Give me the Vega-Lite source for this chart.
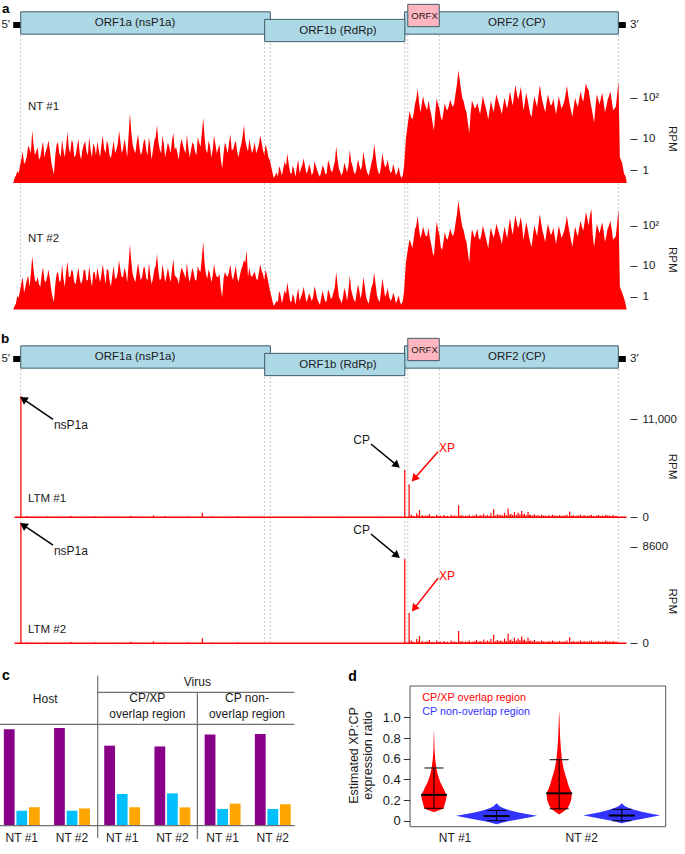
{
"$schema": "https://vega.github.io/schema/vega-lite/v6.json",
"width": 685, "height": 854, "padding": 0, "autosize": {"type": "none"}, "background": "white",
"config": {"view": {"stroke": null}, "font": "Liberation Sans",
  "axis": {"grid": false, "domain": false, "labelFont": "Liberation Sans", "titleFont": "Liberation Sans", "labelColor": "#1a1a1a", "titleColor": "#1a1a1a", "tickColor": "#333333", "labelFontSize": 11.5, "titleFontSize": 11.5, "titleFontWeight": "normal", "tickSize": 7, "labelPadding": 5}},
"datasets": {
 "genes": [
  {"name": "ORF1a (nsP1a)", "start": 83, "end": 2842, "frame": 0, "lx": 1346, "kind": "ORF"},
  {"name": "ORF2 (CP)", "start": 4325, "end": 6688, "frame": 0, "lx": 5565, "kind": "ORF"},
  {"name": "ORF1b (RdRp)", "start": 2779, "end": 4329, "frame": -1, "lx": 3590, "kind": "ORF"},
  {"name": "ORFX", "start": 4361, "end": 4709, "frame": 1, "lx": 4546, "kind": "ORFX"}],
 "ends": [{"region": "5′ UTR", "start": 0, "end": 83}, {"region": "3′ UTR", "start": 6688, "end": 6771}],
 "vlines": [{"p": 83}, {"p": 2779}, {"p": 2842}, {"p": 4327}, {"p": 4361}, {"p": 4709}, {"p": 6688}],
 "nt1": [
  {"p":0,"v":0},{"p":30,"v":0.5},{"p":60,"v":0.7},{"p":90,"v":2.6},{"p":120,"v":1.8},{"p":150,"v":3.2},{"p":180,"v":5.5},{"p":210,"v":16},{"p":240,"v":3.5},{"p":270,"v":6},{"p":300,"v":3},{"p":330,"v":8.5},{"p":360,"v":4.5},{"p":390,"v":9},{"p":420,"v":2.2},{"p":450,"v":0.6},{"p":480,"v":7},{"p":510,"v":4},{"p":540,"v":9.5},{"p":570,"v":3},{"p":600,"v":15},{"p":630,"v":4},{"p":660,"v":8},{"p":690,"v":3.5},{"p":720,"v":10},{"p":750,"v":2.5},{"p":780,"v":7},{"p":810,"v":4.5},{"p":840,"v":11},{"p":870,"v":3},{"p":900,"v":6},{"p":930,"v":8.5},{"p":960,"v":3},{"p":990,"v":12},{"p":1020,"v":4},{"p":1050,"v":7},{"p":1080,"v":2.8},{"p":1110,"v":9},{"p":1140,"v":5},{"p":1170,"v":16},{"p":1200,"v":4},{"p":1230,"v":10},{"p":1260,"v":3},{"p":1290,"v":42},{"p":1320,"v":7},{"p":1350,"v":4},{"p":1380,"v":13},{"p":1410,"v":3.5},{"p":1440,"v":8},{"p":1470,"v":5},{"p":1500,"v":11},{"p":1530,"v":2.5},{"p":1560,"v":9},{"p":1590,"v":22},{"p":1620,"v":5},{"p":1650,"v":12},{"p":1680,"v":3},{"p":1710,"v":8},{"p":1740,"v":4},{"p":1770,"v":14},{"p":1800,"v":6},{"p":1830,"v":2.5},{"p":1860,"v":10},{"p":1890,"v":5},{"p":1920,"v":13},{"p":1950,"v":3},{"p":1980,"v":8},{"p":2010,"v":4.5},{"p":2040,"v":11},{"p":2070,"v":6},{"p":2100,"v":33},{"p":2130,"v":5},{"p":2160,"v":9},{"p":2190,"v":3},{"p":2220,"v":12},{"p":2250,"v":4},{"p":2280,"v":7},{"p":2310,"v":1.2},{"p":2340,"v":8},{"p":2370,"v":4},{"p":2400,"v":13},{"p":2430,"v":5},{"p":2460,"v":9},{"p":2490,"v":3},{"p":2520,"v":7},{"p":2550,"v":22},{"p":2580,"v":6},{"p":2610,"v":10},{"p":2640,"v":4},{"p":2670,"v":8},{"p":2700,"v":5},{"p":2730,"v":12},{"p":2760,"v":5},{"p":2790,"v":7},{"p":2820,"v":3},{"p":2850,"v":1.5},
  {"p":2880,"v":0.3},{"p":2910,"v":0.8},{"p":2940,"v":1.5},{"p":2970,"v":0.5},{"p":3000,"v":2.2},{"p":3030,"v":4},{"p":3060,"v":0.8},{"p":3090,"v":1.6},{"p":3120,"v":0.4},{"p":3150,"v":2.5},{"p":3180,"v":1.2},{"p":3210,"v":2.8},{"p":3240,"v":0.7},{"p":3270,"v":1.8},{"p":3300,"v":0.5},{"p":3330,"v":2.2},{"p":3360,"v":1},{"p":3390,"v":0.4},{"p":3420,"v":1.6},{"p":3450,"v":0.6},{"p":3480,"v":2.4},{"p":3510,"v":1},{"p":3540,"v":1.4},{"p":3570,"v":6.2},{"p":3600,"v":1.2},{"p":3630,"v":0.5},{"p":3660,"v":2},{"p":3690,"v":0.8},{"p":3720,"v":5},{"p":3750,"v":1.5},{"p":3780,"v":0.6},{"p":3810,"v":2.6},{"p":3840,"v":1},{"p":3870,"v":4.5},{"p":3900,"v":1.2},{"p":3930,"v":0.5},{"p":3960,"v":2},{"p":3990,"v":7.2},{"p":4020,"v":1.5},{"p":4050,"v":0.6},{"p":4080,"v":4},{"p":4110,"v":1.3},{"p":4140,"v":2.5},{"p":4170,"v":0.7},{"p":4200,"v":1.8},{"p":4230,"v":0.5},{"p":4260,"v":1.4},{"p":4290,"v":0.3},{"p":4320,"v":1.5},
  {"p":4340,"v":10},{"p":4360,"v":22},{"p":4380,"v":48},{"p":4410,"v":30},{"p":4440,"v":70},{"p":4470,"v":160},{"p":4500,"v":45},{"p":4530,"v":110},{"p":4560,"v":60},{"p":4590,"v":85},{"p":4620,"v":40},{"p":4650,"v":16},{"p":4680,"v":95},{"p":4710,"v":55},{"p":4740,"v":28},{"p":4770,"v":75},{"p":4800,"v":50},{"p":4830,"v":90},{"p":4860,"v":60},{"p":4890,"v":130},{"p":4920,"v":440},{"p":4950,"v":150},{"p":4980,"v":80},{"p":5010,"v":45},{"p":5040,"v":14},{"p":5070,"v":85},{"p":5100,"v":55},{"p":5130,"v":75},{"p":5160,"v":40},{"p":5190,"v":110},{"p":5220,"v":60},{"p":5250,"v":30},{"p":5280,"v":85},{"p":5310,"v":45},{"p":5340,"v":120},{"p":5370,"v":70},{"p":5400,"v":40},{"p":5430,"v":100},{"p":5460,"v":55},{"p":5490,"v":140},{"p":5520,"v":65},{"p":5550,"v":200},{"p":5580,"v":90},{"p":5610,"v":180},{"p":5640,"v":50},{"p":5670,"v":130},{"p":5700,"v":60},{"p":5730,"v":35},{"p":5760,"v":110},{"p":5790,"v":60},{"p":5820,"v":200},{"p":5850,"v":80},{"p":5880,"v":45},{"p":5910,"v":120},{"p":5940,"v":65},{"p":5970,"v":95},{"p":6000,"v":40},{"p":6030,"v":110},{"p":6060,"v":55},{"p":6090,"v":80},{"p":6120,"v":190},{"p":6150,"v":70},{"p":6180,"v":35},{"p":6210,"v":100},{"p":6240,"v":60},{"p":6270,"v":140},{"p":6300,"v":80},{"p":6330,"v":220},{"p":6360,"v":150},{"p":6390,"v":60},{"p":6420,"v":25},{"p":6450,"v":120},{"p":6480,"v":70},{"p":6510,"v":130},{"p":6540,"v":45},{"p":6570,"v":90},{"p":6600,"v":140},{"p":6630,"v":50},{"p":6660,"v":60},{"p":6690,"v":240},{"p":6705,"v":3},{"p":6730,"v":2},{"p":6750,"v":0.7},{"p":6770,"v":0.4},{"p":6780,"v":0},
  {"p":15,"v":0.3},{"p":45,"v":0.9},{"p":75,"v":1.5},{"p":105,"v":4.5},{"p":135,"v":2.2},{"p":165,"v":6.5},{"p":195,"v":4},{"p":225,"v":7},{"p":255,"v":4.5},{"p":285,"v":2.5},{"p":315,"v":5.5},{"p":345,"v":3},{"p":375,"v":6},{"p":405,"v":5},{"p":435,"v":1.2},{"p":465,"v":3.5},{"p":495,"v":8},{"p":525,"v":3},{"p":555,"v":5},{"p":585,"v":6.5},{"p":615,"v":5.5},{"p":645,"v":9},{"p":675,"v":3},{"p":705,"v":6},{"p":735,"v":4},{"p":765,"v":5},{"p":795,"v":8.5},{"p":825,"v":3.5},{"p":855,"v":5},{"p":885,"v":7.5},{"p":915,"v":3.5},{"p":945,"v":5},{"p":975,"v":7},{"p":1005,"v":5.5},{"p":1035,"v":9},{"p":1065,"v":3.5},{"p":1095,"v":5},{"p":1125,"v":4},{"p":1155,"v":7},{"p":1185,"v":8},{"p":1215,"v":5.5},{"p":1245,"v":6},{"p":1275,"v":12},{"p":1305,"v":15},{"p":1335,"v":5},{"p":1365,"v":8},{"p":1395,"v":6},{"p":1425,"v":4.5},{"p":1455,"v":10},{"p":1485,"v":3.5},{"p":1515,"v":6},{"p":1545,"v":5},{"p":1575,"v":11},{"p":1605,"v":8},{"p":1635,"v":4},{"p":1665,"v":7},{"p":1695,"v":5},{"p":1725,"v":6},{"p":1755,"v":9},{"p":1785,"v":5},{"p":1815,"v":4},{"p":1845,"v":6.5},{"p":1875,"v":7},{"p":1905,"v":4},{"p":1935,"v":6},{"p":1965,"v":5},{"p":1995,"v":7},{"p":2025,"v":3.5},{"p":2055,"v":8},{"p":2085,"v":14},{"p":2115,"v":11},{"p":2145,"v":4},{"p":2175,"v":6.5},{"p":2205,"v":5},{"p":2235,"v":7},{"p":2265,"v":5.5},{"p":2295,"v":2.5},{"p":2325,"v":4},{"p":2355,"v":6},{"p":2385,"v":7.5},{"p":2415,"v":5},{"p":2445,"v":7},{"p":2475,"v":4.5},{"p":2505,"v":5},{"p":2535,"v":11},{"p":2565,"v":9},{"p":2595,"v":4.5},{"p":2625,"v":6},{"p":2655,"v":5.5},{"p":2685,"v":4},{"p":2715,"v":7},{"p":2745,"v":8},{"p":2775,"v":3.5},{"p":2805,"v":5},{"p":2835,"v":2.5},
  {"p":2865,"v":0.8},{"p":2895,"v":0.5},{"p":2925,"v":0.4},{"p":2955,"v":1},{"p":2985,"v":1.2},{"p":3015,"v":1.5},{"p":3045,"v":1.8},{"p":3075,"v":0.6},{"p":3105,"v":1},{"p":3135,"v":1.4},{"p":3165,"v":0.7},{"p":3195,"v":1.6},{"p":3225,"v":1.5},{"p":3255,"v":0.9},{"p":3285,"v":1.2},{"p":3315,"v":0.8},{"p":3345,"v":1.5},{"p":3375,"v":0.6},{"p":3405,"v":0.9},{"p":3435,"v":1.2},{"p":3465,"v":0.7},{"p":3495,"v":1.8},{"p":3525,"v":0.8},{"p":3555,"v":2.2},{"p":3585,"v":2.5},{"p":3615,"v":0.8},{"p":3645,"v":0.9},{"p":3675,"v":1.3},{"p":3705,"v":1.5},{"p":3735,"v":2.2},{"p":3765,"v":0.8},{"p":3795,"v":1.2},{"p":3825,"v":1.6},{"p":3855,"v":1.5},{"p":3885,"v":2.4},{"p":3915,"v":0.7},{"p":3945,"v":1.1},{"p":3975,"v":3},{"p":4005,"v":3.5},{"p":4035,"v":0.8},{"p":4065,"v":1.5},{"p":4095,"v":2.2},{"p":4125,"v":1.6},{"p":4155,"v":1.2},{"p":4185,"v":0.9},{"p":4215,"v":1.1},{"p":4245,"v":0.8},{"p":4275,"v":0.6},{"p":4305,"v":0.5},
  {"p":4395,"v":35},{"p":4425,"v":40},{"p":4455,"v":95},{"p":4485,"v":80},{"p":4515,"v":70},{"p":4545,"v":75},{"p":4575,"v":50},{"p":4605,"v":55},{"p":4635,"v":25},{"p":4665,"v":45},{"p":4695,"v":70},{"p":4725,"v":35},{"p":4755,"v":45},{"p":4785,"v":55},{"p":4815,"v":65},{"p":4845,"v":70},{"p":4875,"v":75},{"p":4905,"v":210},{"p":4935,"v":260},{"p":4965,"v":95},{"p":4995,"v":55},{"p":5025,"v":25},{"p":5055,"v":40},{"p":5085,"v":70},{"p":5115,"v":60},{"p":5145,"v":55},{"p":5175,"v":65},{"p":5205,"v":80},{"p":5235,"v":45},{"p":5265,"v":50},{"p":5295,"v":60},{"p":5325,"v":75},{"p":5355,"v":90},{"p":5385,"v":55},{"p":5415,"v":65},{"p":5445,"v":70},{"p":5475,"v":85},{"p":5505,"v":95},{"p":5535,"v":110},{"p":5565,"v":130},{"p":5595,"v":120},{"p":5625,"v":100},{"p":5655,"v":80},{"p":5685,"v":90},{"p":5715,"v":40},{"p":5745,"v":65},{"p":5775,"v":80},{"p":5805,"v":110},{"p":5835,"v":120},{"p":5865,"v":60},{"p":5895,"v":75},{"p":5925,"v":85},{"p":5955,"v":70},{"p":5985,"v":60},{"p":6015,"v":65},{"p":6045,"v":75},{"p":6075,"v":65},{"p":6105,"v":120},{"p":6135,"v":110},{"p":6165,"v":50},{"p":6195,"v":60},{"p":6225,"v":75},{"p":6255,"v":90},{"p":6285,"v":100},{"p":6315,"v":130},{"p":6345,"v":170},{"p":6375,"v":90},{"p":6405,"v":40},{"p":6435,"v":60},{"p":6465,"v":90},{"p":6495,"v":95},{"p":6525,"v":80},{"p":6555,"v":60},{"p":6585,"v":110},{"p":6615,"v":85},{"p":6645,"v":55},{"p":6675,"v":120}],
 "nt2": [
  {"p":0,"v":0},{"p":30,"v":0.4},{"p":60,"v":0.9},{"p":90,"v":3.2},{"p":120,"v":1.5},{"p":150,"v":4},{"p":180,"v":2.5},{"p":210,"v":18},{"p":240,"v":4},{"p":270,"v":5},{"p":300,"v":2.5},{"p":330,"v":9},{"p":360,"v":3.5},{"p":390,"v":8},{"p":420,"v":2},{"p":450,"v":0.5},{"p":480,"v":6},{"p":510,"v":3.5},{"p":540,"v":11},{"p":570,"v":2.5},{"p":600,"v":13},{"p":630,"v":5},{"p":660,"v":7},{"p":690,"v":3},{"p":720,"v":9},{"p":750,"v":3},{"p":780,"v":8},{"p":810,"v":4},{"p":840,"v":10},{"p":870,"v":2.5},{"p":900,"v":7},{"p":930,"v":9},{"p":960,"v":3.5},{"p":990,"v":11},{"p":1020,"v":3},{"p":1050,"v":8},{"p":1080,"v":2.5},{"p":1110,"v":10},{"p":1140,"v":4.5},{"p":1170,"v":14},{"p":1200,"v":5},{"p":1230,"v":9},{"p":1260,"v":3.5},{"p":1290,"v":34},{"p":1320,"v":6},{"p":1350,"v":3.5},{"p":1380,"v":12},{"p":1410,"v":4},{"p":1440,"v":9},{"p":1470,"v":4.5},{"p":1500,"v":12},{"p":1530,"v":3},{"p":1560,"v":8},{"p":1590,"v":20},{"p":1620,"v":4},{"p":1650,"v":11},{"p":1680,"v":3.5},{"p":1710,"v":9},{"p":1740,"v":3.5},{"p":1770,"v":15},{"p":1800,"v":5},{"p":1830,"v":3},{"p":1860,"v":9},{"p":1890,"v":6},{"p":1920,"v":12},{"p":1950,"v":3.5},{"p":1980,"v":9},{"p":2010,"v":4},{"p":2040,"v":10},{"p":2070,"v":7},{"p":2100,"v":41},{"p":2130,"v":6},{"p":2160,"v":8},{"p":2190,"v":3.5},{"p":2220,"v":11},{"p":2250,"v":5},{"p":2280,"v":6},{"p":2310,"v":1},{"p":2340,"v":7},{"p":2370,"v":5},{"p":2400,"v":11},{"p":2430,"v":4},{"p":2460,"v":10},{"p":2490,"v":3.5},{"p":2520,"v":8},{"p":2550,"v":14},{"p":2580,"v":25},{"p":2610,"v":9},{"p":2640,"v":5},{"p":2670,"v":7},{"p":2700,"v":4},{"p":2730,"v":11},{"p":2760,"v":6},{"p":2790,"v":8},{"p":2820,"v":3.5},{"p":2850,"v":1.2},
  {"p":2880,"v":0.2},{"p":2910,"v":0.6},{"p":2940,"v":1.8},{"p":2970,"v":0.4},{"p":3000,"v":1.9},{"p":3030,"v":3.5},{"p":3060,"v":0.6},{"p":3090,"v":1.4},{"p":3120,"v":0.3},{"p":3150,"v":2.2},{"p":3180,"v":1},{"p":3210,"v":2.5},{"p":3240,"v":0.5},{"p":3270,"v":1.5},{"p":3300,"v":0.6},{"p":3330,"v":2.6},{"p":3360,"v":0.8},{"p":3390,"v":0.3},{"p":3420,"v":1.8},{"p":3450,"v":0.5},{"p":3480,"v":2},{"p":3510,"v":0.8},{"p":3540,"v":1.6},{"p":3570,"v":6.8},{"p":3600,"v":1},{"p":3630,"v":0.4},{"p":3660,"v":2.3},{"p":3690,"v":0.6},{"p":3720,"v":5.5},{"p":3750,"v":1.2},{"p":3780,"v":0.5},{"p":3810,"v":3},{"p":3840,"v":0.8},{"p":3870,"v":5},{"p":3900,"v":1},{"p":3930,"v":0.4},{"p":3960,"v":2.4},{"p":3990,"v":6.5},{"p":4020,"v":1.2},{"p":4050,"v":0.5},{"p":4080,"v":4.5},{"p":4110,"v":1},{"p":4140,"v":2.2},{"p":4170,"v":0.6},{"p":4200,"v":1.5},{"p":4230,"v":0.4},{"p":4260,"v":1.2},{"p":4290,"v":0.3},{"p":4320,"v":1.8},
  {"p":4340,"v":12},{"p":4360,"v":25},{"p":4380,"v":45},{"p":4410,"v":28},{"p":4440,"v":80},{"p":4470,"v":170},{"p":4500,"v":50},{"p":4530,"v":95},{"p":4560,"v":55},{"p":4590,"v":90},{"p":4620,"v":35},{"p":4650,"v":18},{"p":4680,"v":125},{"p":4710,"v":60},{"p":4740,"v":25},{"p":4770,"v":70},{"p":4800,"v":45},{"p":4830,"v":85},{"p":4860,"v":55},{"p":4890,"v":120},{"p":4920,"v":390},{"p":4950,"v":140},{"p":4980,"v":75},{"p":5010,"v":40},{"p":5040,"v":12},{"p":5070,"v":80},{"p":5100,"v":50},{"p":5130,"v":85},{"p":5160,"v":45},{"p":5190,"v":100},{"p":5220,"v":55},{"p":5250,"v":28},{"p":5280,"v":90},{"p":5310,"v":50},{"p":5340,"v":110},{"p":5370,"v":65},{"p":5400,"v":35},{"p":5430,"v":95},{"p":5460,"v":50},{"p":5490,"v":150},{"p":5520,"v":60},{"p":5550,"v":180},{"p":5580,"v":85},{"p":5610,"v":160},{"p":5640,"v":45},{"p":5670,"v":120},{"p":5700,"v":55},{"p":5730,"v":30},{"p":5760,"v":100},{"p":5790,"v":55},{"p":5820,"v":190},{"p":5850,"v":75},{"p":5880,"v":40},{"p":5910,"v":110},{"p":5940,"v":60},{"p":5970,"v":90},{"p":6000,"v":35},{"p":6030,"v":100},{"p":6060,"v":50},{"p":6090,"v":75},{"p":6120,"v":170},{"p":6150,"v":65},{"p":6180,"v":30},{"p":6210,"v":95},{"p":6240,"v":55},{"p":6270,"v":130},{"p":6300,"v":75},{"p":6330,"v":210},{"p":6360,"v":100},{"p":6390,"v":250},{"p":6420,"v":30},{"p":6450,"v":110},{"p":6480,"v":65},{"p":6510,"v":120},{"p":6540,"v":40},{"p":6570,"v":85},{"p":6600,"v":130},{"p":6630,"v":45},{"p":6660,"v":55},{"p":6690,"v":240},{"p":6705,"v":2.5},{"p":6730,"v":1.5},{"p":6750,"v":0.9},{"p":6770,"v":0.3},{"p":6780,"v":0},
  {"p":15,"v":0.2},{"p":45,"v":1.1},{"p":75,"v":1.8},{"p":105,"v":5},{"p":135,"v":2.5},{"p":165,"v":5.5},{"p":195,"v":6},{"p":225,"v":8},{"p":255,"v":3.5},{"p":285,"v":3},{"p":315,"v":6},{"p":345,"v":4},{"p":375,"v":5},{"p":405,"v":4.5},{"p":435,"v":1},{"p":465,"v":3},{"p":495,"v":7},{"p":525,"v":4},{"p":555,"v":4.5},{"p":585,"v":7},{"p":615,"v":5},{"p":645,"v":8},{"p":675,"v":3.5},{"p":705,"v":5.5},{"p":735,"v":4.5},{"p":765,"v":4},{"p":795,"v":7.5},{"p":825,"v":4},{"p":855,"v":4.5},{"p":885,"v":6.5},{"p":915,"v":4},{"p":945,"v":5.5},{"p":975,"v":6},{"p":1005,"v":6},{"p":1035,"v":8},{"p":1065,"v":4},{"p":1095,"v":5.5},{"p":1125,"v":4.5},{"p":1155,"v":6.5},{"p":1185,"v":7.5},{"p":1215,"v":5},{"p":1245,"v":6.5},{"p":1275,"v":11},{"p":1305,"v":13},{"p":1335,"v":4.5},{"p":1365,"v":7},{"p":1395,"v":6.5},{"p":1425,"v":5},{"p":1455,"v":9},{"p":1485,"v":4},{"p":1515,"v":5.5},{"p":1545,"v":4.5},{"p":1575,"v":10},{"p":1605,"v":7},{"p":1635,"v":4.5},{"p":1665,"v":6.5},{"p":1695,"v":5.5},{"p":1725,"v":5.5},{"p":1755,"v":8},{"p":1785,"v":5.5},{"p":1815,"v":4.5},{"p":1845,"v":6},{"p":1875,"v":7.5},{"p":1905,"v":4.5},{"p":1935,"v":5.5},{"p":1965,"v":5.5},{"p":1995,"v":6.5},{"p":2025,"v":4},{"p":2055,"v":7.5},{"p":2085,"v":16},{"p":2115,"v":12},{"p":2145,"v":4.5},{"p":2175,"v":6},{"p":2205,"v":5.5},{"p":2235,"v":6.5},{"p":2265,"v":5},{"p":2295,"v":2},{"p":2325,"v":4.5},{"p":2355,"v":5.5},{"p":2385,"v":7},{"p":2415,"v":5.5},{"p":2445,"v":6.5},{"p":2475,"v":5},{"p":2505,"v":5.5},{"p":2535,"v":10},{"p":2565,"v":12},{"p":2595,"v":5},{"p":2625,"v":5.5},{"p":2655,"v":6},{"p":2685,"v":4.5},{"p":2715,"v":6.5},{"p":2745,"v":7.5},{"p":2775,"v":4},{"p":2805,"v":5.5},{"p":2835,"v":2},
  {"p":2865,"v":0.6},{"p":2895,"v":0.4},{"p":2925,"v":0.5},{"p":2955,"v":1.2},{"p":2985,"v":1},{"p":3015,"v":1.3},{"p":3045,"v":1.6},{"p":3075,"v":0.5},{"p":3105,"v":0.9},{"p":3135,"v":1.2},{"p":3165,"v":0.6},{"p":3195,"v":1.4},{"p":3225,"v":1.3},{"p":3255,"v":0.8},{"p":3285,"v":1},{"p":3315,"v":1},{"p":3345,"v":1.7},{"p":3375,"v":0.5},{"p":3405,"v":1},{"p":3435,"v":1},{"p":3465,"v":0.6},{"p":3495,"v":1.5},{"p":3525,"v":0.9},{"p":3555,"v":2.5},{"p":3585,"v":2.8},{"p":3615,"v":0.7},{"p":3645,"v":1},{"p":3675,"v":1.5},{"p":3705,"v":1.8},{"p":3735,"v":2},{"p":3765,"v":0.7},{"p":3795,"v":1.4},{"p":3825,"v":1.8},{"p":3855,"v":1.7},{"p":3885,"v":2.6},{"p":3915,"v":0.6},{"p":3945,"v":1.3},{"p":3975,"v":3.2},{"p":4005,"v":3},{"p":4035,"v":0.7},{"p":4065,"v":1.7},{"p":4095,"v":2.4},{"p":4125,"v":1.4},{"p":4155,"v":1},{"p":4185,"v":0.8},{"p":4215,"v":1},{"p":4245,"v":0.7},{"p":4275,"v":0.5},{"p":4305,"v":0.6},
  {"p":4395,"v":38},{"p":4425,"v":45},{"p":4455,"v":100},{"p":4485,"v":85},{"p":4515,"v":65},{"p":4545,"v":70},{"p":4575,"v":55},{"p":4605,"v":50},{"p":4635,"v":22},{"p":4665,"v":50},{"p":4695,"v":80},{"p":4725,"v":30},{"p":4755,"v":40},{"p":4785,"v":50},{"p":4815,"v":60},{"p":4845,"v":65},{"p":4875,"v":70},{"p":4905,"v":190},{"p":4935,"v":230},{"p":4965,"v":90},{"p":4995,"v":50},{"p":5025,"v":22},{"p":5055,"v":38},{"p":5085,"v":65},{"p":5115,"v":65},{"p":5145,"v":50},{"p":5175,"v":60},{"p":5205,"v":75},{"p":5235,"v":40},{"p":5265,"v":55},{"p":5295,"v":65},{"p":5325,"v":70},{"p":5355,"v":85},{"p":5385,"v":50},{"p":5415,"v":60},{"p":5445,"v":65},{"p":5475,"v":90},{"p":5505,"v":90},{"p":5535,"v":100},{"p":5565,"v":120},{"p":5595,"v":110},{"p":5625,"v":95},{"p":5655,"v":75},{"p":5685,"v":85},{"p":5715,"v":38},{"p":5745,"v":60},{"p":5775,"v":75},{"p":5805,"v":100},{"p":5835,"v":115},{"p":5865,"v":55},{"p":5895,"v":70},{"p":5925,"v":80},{"p":5955,"v":65},{"p":5985,"v":55},{"p":6015,"v":60},{"p":6045,"v":70},{"p":6075,"v":60},{"p":6105,"v":110},{"p":6135,"v":100},{"p":6165,"v":45},{"p":6195,"v":55},{"p":6225,"v":70},{"p":6255,"v":85},{"p":6285,"v":95},{"p":6315,"v":120},{"p":6345,"v":150},{"p":6375,"v":180},{"p":6405,"v":60},{"p":6435,"v":55},{"p":6465,"v":85},{"p":6495,"v":90},{"p":6525,"v":75},{"p":6555,"v":55},{"p":6585,"v":100},{"p":6615,"v":80},{"p":6645,"v":50},{"p":6675,"v":115}],
 "ltm1": [
  {"p":85,"v":13600},{"p":4328,"v":5310},{"p":4376,"v":3700},
  {"p":150,"v":110},{"p":260,"v":60},{"p":380,"v":90},{"p":520,"v":70},{"p":640,"v":140},{"p":760,"v":60},{"p":900,"v":110},{"p":1030,"v":70},{"p":1150,"v":90},{"p":1300,"v":170},{"p":1420,"v":80},{"p":1550,"v":220},{"p":1680,"v":120},{"p":1800,"v":90},{"p":1930,"v":100},{"p":2090,"v":520},{"p":2200,"v":80},{"p":2350,"v":60},{"p":2480,"v":110},{"p":2620,"v":70},{"p":2760,"v":60},{"p":2900,"v":40},{"p":3050,"v":30},{"p":3250,"v":50},{"p":3450,"v":40},{"p":3650,"v":60},{"p":3850,"v":40},{"p":4050,"v":70},{"p":4250,"v":40},
  {"p":4400,"v":300},{"p":4415,"v":100},{"p":4430,"v":150},{"p":4460,"v":450},{"p":4475,"v":200},{"p":4490,"v":800},{"p":4520,"v":250},{"p":4540,"v":120},{"p":4560,"v":200},{"p":4580,"v":180},{"p":4600,"v":350},{"p":4620,"v":100},{"p":4640,"v":150},{"p":4680,"v":300},{"p":4700,"v":130},{"p":4720,"v":200},{"p":4760,"v":250},{"p":4780,"v":100},{"p":4800,"v":150},{"p":4840,"v":300},{"p":4860,"v":150},{"p":4880,"v":200},{"p":4900,"v":120},{"p":4923,"v":1350},{"p":4940,"v":200},{"p":4960,"v":250},{"p":4980,"v":120},{"p":5000,"v":180},{"p":5020,"v":150},{"p":5040,"v":300},{"p":5060,"v":100},{"p":5080,"v":200},{"p":5100,"v":180},{"p":5120,"v":350},{"p":5140,"v":150},{"p":5160,"v":250},{"p":5180,"v":200},{"p":5200,"v":400},{"p":5220,"v":150},{"p":5240,"v":300},{"p":5260,"v":180},{"p":5280,"v":450},{"p":5310,"v":900},{"p":5330,"v":200},{"p":5350,"v":350},{"p":5370,"v":250},{"p":5390,"v":300},{"p":5410,"v":200},{"p":5430,"v":500},{"p":5450,"v":250},{"p":5470,"v":1000},{"p":5490,"v":300},{"p":5500,"v":400},{"p":5520,"v":250},{"p":5540,"v":600},{"p":5560,"v":300},{"p":5580,"v":500},{"p":5600,"v":350},{"p":5620,"v":700},{"p":5635,"v":300},{"p":5650,"v":400},{"p":5670,"v":250},{"p":5690,"v":600},{"p":5705,"v":250},{"p":5720,"v":300},{"p":5740,"v":200},{"p":5760,"v":350},{"p":5780,"v":200},{"p":5800,"v":250},{"p":5820,"v":150},{"p":5840,"v":300},{"p":5860,"v":200},{"p":5880,"v":200},{"p":5900,"v":150},{"p":5920,"v":250},{"p":5940,"v":150},{"p":5960,"v":300},{"p":5980,"v":200},{"p":6000,"v":200},{"p":6020,"v":150},{"p":6040,"v":250},{"p":6060,"v":150},{"p":6080,"v":200},{"p":6100,"v":200},{"p":6120,"v":300},{"p":6150,"v":650},{"p":6170,"v":150},{"p":6190,"v":250},{"p":6210,"v":150},{"p":6230,"v":200},{"p":6250,"v":200},{"p":6270,"v":300},{"p":6290,"v":150},{"p":6310,"v":250},{"p":6330,"v":150},{"p":6350,"v":200},{"p":6370,"v":200},{"p":6390,"v":300},{"p":6410,"v":150},{"p":6430,"v":150},{"p":6450,"v":200},{"p":6470,"v":250},{"p":6490,"v":150},{"p":6510,"v":200},{"p":6530,"v":150},{"p":6550,"v":300},{"p":6570,"v":200},{"p":6590,"v":200},{"p":6610,"v":150},{"p":6630,"v":250},{"p":6650,"v":150},{"p":6670,"v":150}],
 "ltm2": [
  {"p":85,"v":10770},{"p":4328,"v":7530},{"p":4376,"v":2730},
  {"p":150,"v":90},{"p":260,"v":50},{"p":380,"v":80},{"p":520,"v":60},{"p":640,"v":120},{"p":760,"v":50},{"p":900,"v":90},{"p":1030,"v":60},{"p":1150,"v":80},{"p":1300,"v":140},{"p":1420,"v":70},{"p":1550,"v":180},{"p":1680,"v":100},{"p":1800,"v":80},{"p":1930,"v":90},{"p":2090,"v":450},{"p":2200,"v":70},{"p":2350,"v":50},{"p":2480,"v":90},{"p":2620,"v":60},{"p":2760,"v":50},{"p":2900,"v":30},{"p":3050,"v":30},{"p":3250,"v":40},{"p":3450,"v":30},{"p":3650,"v":50},{"p":3850,"v":30},{"p":4050,"v":60},{"p":4250,"v":30},
  {"p":4400,"v":250},{"p":4415,"v":90},{"p":4430,"v":130},{"p":4460,"v":380},{"p":4475,"v":170},{"p":4490,"v":650},{"p":4520,"v":210},{"p":4540,"v":100},{"p":4560,"v":170},{"p":4580,"v":150},{"p":4600,"v":300},{"p":4620,"v":90},{"p":4640,"v":130},{"p":4680,"v":250},{"p":4700,"v":110},{"p":4720,"v":170},{"p":4760,"v":210},{"p":4780,"v":90},{"p":4800,"v":130},{"p":4840,"v":250},{"p":4860,"v":130},{"p":4880,"v":170},{"p":4900,"v":100},{"p":4923,"v":1100},{"p":4940,"v":170},{"p":4960,"v":210},{"p":4980,"v":100},{"p":5000,"v":150},{"p":5020,"v":130},{"p":5040,"v":250},{"p":5060,"v":90},{"p":5080,"v":170},{"p":5100,"v":150},{"p":5120,"v":300},{"p":5140,"v":130},{"p":5160,"v":210},{"p":5180,"v":170},{"p":5200,"v":340},{"p":5220,"v":130},{"p":5240,"v":250},{"p":5260,"v":150},{"p":5280,"v":380},{"p":5310,"v":760},{"p":5330,"v":170},{"p":5350,"v":300},{"p":5370,"v":210},{"p":5390,"v":250},{"p":5410,"v":170},{"p":5430,"v":420},{"p":5450,"v":210},{"p":5470,"v":850},{"p":5490,"v":250},{"p":5500,"v":340},{"p":5520,"v":210},{"p":5540,"v":500},{"p":5560,"v":250},{"p":5580,"v":420},{"p":5600,"v":300},{"p":5620,"v":600},{"p":5635,"v":250},{"p":5650,"v":340},{"p":5670,"v":210},{"p":5690,"v":500},{"p":5705,"v":210},{"p":5720,"v":250},{"p":5740,"v":170},{"p":5760,"v":300},{"p":5780,"v":170},{"p":5800,"v":210},{"p":5820,"v":130},{"p":5840,"v":250},{"p":5860,"v":170},{"p":5880,"v":170},{"p":5900,"v":130},{"p":5920,"v":210},{"p":5940,"v":130},{"p":5960,"v":250},{"p":5980,"v":170},{"p":6000,"v":170},{"p":6020,"v":130},{"p":6040,"v":210},{"p":6060,"v":130},{"p":6080,"v":170},{"p":6100,"v":170},{"p":6120,"v":250},{"p":6150,"v":550},{"p":6170,"v":130},{"p":6190,"v":210},{"p":6210,"v":130},{"p":6230,"v":170},{"p":6250,"v":170},{"p":6270,"v":250},{"p":6290,"v":130},{"p":6310,"v":210},{"p":6330,"v":130},{"p":6350,"v":170},{"p":6370,"v":170},{"p":6390,"v":250},{"p":6410,"v":130},{"p":6430,"v":130},{"p":6450,"v":170},{"p":6470,"v":210},{"p":6490,"v":130},{"p":6510,"v":170},{"p":6530,"v":130},{"p":6550,"v":250},{"p":6570,"v":170},{"p":6590,"v":170},{"p":6610,"v":130},{"p":6630,"v":210},{"p":6650,"v":130},{"p":6670,"v":130}],
 "frames": [
  {"sample":"Host|NT #1","rep":"NT #1","frame":"0","pct":74.3},{"sample":"Host|NT #1","rep":"NT #1","frame":"+1","pct":11.5},{"sample":"Host|NT #1","rep":"NT #1","frame":"+2","pct":14.2},
  {"sample":"Host|NT #2","rep":"NT #2","frame":"0","pct":75.1},{"sample":"Host|NT #2","rep":"NT #2","frame":"+1","pct":11.5},{"sample":"Host|NT #2","rep":"NT #2","frame":"+2","pct":13.3},
  {"sample":"Overlap|NT #1","rep":"NT #1","frame":"0","pct":61.6},{"sample":"Overlap|NT #1","rep":"NT #1","frame":"+1","pct":24.4},{"sample":"Overlap|NT #1","rep":"NT #1","frame":"+2","pct":14.2},
  {"sample":"Overlap|NT #2","rep":"NT #2","frame":"0","pct":61.0},{"sample":"Overlap|NT #2","rep":"NT #2","frame":"+1","pct":24.9},{"sample":"Overlap|NT #2","rep":"NT #2","frame":"+2","pct":14.1},
  {"sample":"NonOverlap|NT #1","rep":"NT #1","frame":"0","pct":70.2},{"sample":"NonOverlap|NT #1","rep":"NT #1","frame":"+1","pct":12.9},{"sample":"NonOverlap|NT #1","rep":"NT #1","frame":"+2","pct":17.0},
  {"sample":"NonOverlap|NT #2","rep":"NT #2","frame":"0","pct":70.6},{"sample":"NonOverlap|NT #2","rep":"NT #2","frame":"+1","pct":12.9},{"sample":"NonOverlap|NT #2","rep":"NT #2","frame":"+2","pct":16.5}],
 "violins": [
  {"g":"r1","y":0.085,"lo":1,"hi":1},{"g":"r1","y":0.09,"lo":0.968,"hi":1.032},{"g":"r1","y":0.1,"lo":0.92,"hi":1.08},{"g":"r1","y":0.11,"lo":0.872,"hi":1.128},{"g":"r1","y":0.12,"lo":0.848,"hi":1.152},{"g":"r1","y":0.13,"lo":0.84,"hi":1.16},{"g":"r1","y":0.15,"lo":0.832,"hi":1.168},{"g":"r1","y":0.17,"lo":0.824,"hi":1.176},{"g":"r1","y":0.2,"lo":0.808,"hi":1.192},{"g":"r1","y":0.23,"lo":0.8,"hi":1.2},{"g":"r1","y":0.26,"lo":0.808,"hi":1.192},{"g":"r1","y":0.29,"lo":0.832,"hi":1.168},{"g":"r1","y":0.32,"lo":0.856,"hi":1.144},{"g":"r1","y":0.35,"lo":0.88,"hi":1.12},{"g":"r1","y":0.38,"lo":0.904,"hi":1.096},{"g":"r1","y":0.41,"lo":0.92,"hi":1.08},{"g":"r1","y":0.44,"lo":0.936,"hi":1.064},{"g":"r1","y":0.47,"lo":0.949,"hi":1.051},{"g":"r1","y":0.5,"lo":0.96,"hi":1.04},{"g":"r1","y":0.55,"lo":0.971,"hi":1.029},{"g":"r1","y":0.6,"lo":0.981,"hi":1.019},{"g":"r1","y":0.65,"lo":0.987,"hi":1.013},{"g":"r1","y":0.7,"lo":0.992,"hi":1.008},{"g":"r1","y":0.8,"lo":0.995,"hi":1.005},{"g":"r1","y":0.88,"lo":1,"hi":1},
  {"g":"b1","y":-0.035,"lo":2,"hi":2},{"g":"b1","y":-0.01,"lo":1.856,"hi":2.144},{"g":"b1","y":0.01,"lo":1.681,"hi":2.319},{"g":"b1","y":0.03,"lo":1.489,"hi":2.511},{"g":"b1","y":0.048,"lo":1.353,"hi":2.647},{"g":"b1","y":0.06,"lo":1.473,"hi":2.527},{"g":"b1","y":0.08,"lo":1.649,"hi":2.351},{"g":"b1","y":0.1,"lo":1.792,"hi":2.208},{"g":"b1","y":0.12,"lo":1.888,"hi":2.112},{"g":"b1","y":0.14,"lo":1.952,"hi":2.048},{"g":"b1","y":0.168,"lo":2,"hi":2},
  {"g":"r2","y":0.06,"lo":3,"hi":3},{"g":"r2","y":0.08,"lo":2.952,"hi":3.048},{"g":"r2","y":0.1,"lo":2.904,"hi":3.096},{"g":"r2","y":0.12,"lo":2.864,"hi":3.136},{"g":"r2","y":0.15,"lo":2.84,"hi":3.16},{"g":"r2","y":0.2,"lo":2.808,"hi":3.192},{"g":"r2","y":0.25,"lo":2.8,"hi":3.2},{"g":"r2","y":0.28,"lo":2.808,"hi":3.192},{"g":"r2","y":0.31,"lo":2.832,"hi":3.168},{"g":"r2","y":0.35,"lo":2.856,"hi":3.144},{"g":"r2","y":0.4,"lo":2.88,"hi":3.12},{"g":"r2","y":0.45,"lo":2.904,"hi":3.096},{"g":"r2","y":0.5,"lo":2.928,"hi":3.072},{"g":"r2","y":0.55,"lo":2.944,"hi":3.056},{"g":"r2","y":0.6,"lo":2.957,"hi":3.043},{"g":"r2","y":0.7,"lo":2.973,"hi":3.027},{"g":"r2","y":0.8,"lo":2.984,"hi":3.016},{"g":"r2","y":0.9,"lo":2.99,"hi":3.01},{"g":"r2","y":1.0,"lo":2.995,"hi":3.005},{"g":"r2","y":1.06,"lo":3,"hi":3},
  {"g":"b2","y":-0.025,"lo":4,"hi":4},{"g":"b2","y":0.0,"lo":3.84,"hi":4.16},{"g":"b2","y":0.02,"lo":3.665,"hi":4.335},{"g":"b2","y":0.035,"lo":3.521,"hi":4.479},{"g":"b2","y":0.052,"lo":3.385,"hi":4.615},{"g":"b2","y":0.065,"lo":3.505,"hi":4.495},{"g":"b2","y":0.085,"lo":3.665,"hi":4.335},{"g":"b2","y":0.105,"lo":3.8,"hi":4.2},{"g":"b2","y":0.125,"lo":3.896,"hi":4.104},{"g":"b2","y":0.145,"lo":3.96,"hi":4.04},{"g":"b2","y":0.17,"lo":4,"hi":4}],
 "whisk": [
  {"g":"r1","pos":1,"lo":0.12,"hi":0.51,"med":0.25},
  {"g":"b1","pos":2,"lo":0.0,"hi":0.1,"med":0.045},
  {"g":"r2","pos":3,"lo":0.115,"hi":0.59,"med":0.265},
  {"g":"b2","pos":4,"lo":0.0,"hi":0.11,"med":0.05}]
},
"layer": [
 {"layer": [
  {"data": {"name": "vlines"}, "mark": {"type": "rule", "color": "#c6c6c6", "strokeDash": [2, 2], "strokeWidth": 1},
   "encoding": {"x": {"field": "p", "type": "quantitative", "scale": {"domain": [-146, 6817], "range": [0, 630], "nice": false, "zero": false}, "axis": null},
    "y": {"datum": 0, "type": "quantitative", "scale": {"domain": [-1, 1], "range": [30.5, 15.5], "nice": false, "zero": false}, "axis": null}, "y2": {"datum": -38.2}}},
  {"data": {"name": "ends"}, "mark": {"type": "rect", "color": "#000000", "height": 6},
   "encoding": {"x": {"field": "start", "type": "quantitative", "scale": {"domain": [-146, 6817], "range": [0, 630], "nice": false, "zero": false}, "axis": null}, "x2": {"field": "end"},
    "y": {"datum": -0.27, "type": "quantitative", "scale": {"domain": [-1, 1], "range": [30.5, 15.5], "nice": false, "zero": false}, "axis": null}}},
  {"data": {"name": "genes"}, "mark": {"type": "rect", "height": 22.3, "stroke": "#3f5b66", "strokeWidth": 1},
   "encoding": {"x": {"field": "start", "type": "quantitative", "scale": {"domain": [-146, 6817], "range": [0, 630], "nice": false, "zero": false}, "axis": null}, "x2": {"field": "end"},
    "y": {"field": "frame", "type": "quantitative", "scale": {"domain": [-1, 1], "range": [30.5, 15.5], "nice": false, "zero": false}, "axis": null},
    "color": {"field": "kind", "type": "nominal", "scale": {"domain": ["ORF", "ORFX"], "range": ["#add8e6", "#ffb6c1"]}, "legend": null}}},
  {"data": {"name": "genes"}, "transform": [{"filter": "datum.kind == 'ORF'"}], "mark": {"type": "text", "fontSize": 11.5, "color": "#1a1a1a"},
   "encoding": {"x": {"field": "lx", "type": "quantitative", "scale": {"domain": [-146, 6817], "range": [0, 630], "nice": false, "zero": false}, "axis": null},
    "y": {"field": "frame", "type": "quantitative", "scale": {"domain": [-1, 1], "range": [30.5, 15.5], "nice": false, "zero": false}, "axis": null}, "text": {"field": "name"}}},
  {"data": {"name": "genes"}, "transform": [{"filter": "datum.kind == 'ORFX'"}], "mark": {"type": "text", "fontSize": 9.5, "color": "#1a1a1a"},
   "encoding": {"x": {"field": "lx", "type": "quantitative", "scale": {"domain": [-146, 6817], "range": [0, 630], "nice": false, "zero": false}, "axis": null},
    "y": {"field": "frame", "type": "quantitative", "scale": {"domain": [-1, 1], "range": [30.5, 15.5], "nice": false, "zero": false}, "axis": null}, "text": {"field": "name"}}},
  {"data": {"values": [{}]}, "mark": {"type": "text", "fontSize": 13.5, "fontWeight": "bold", "align": "left", "baseline": "alphabetic", "color": "#000000"},
   "encoding": {"x": {"datum": -124, "type": "quantitative", "scale": {"domain": [-146, 6817], "range": [0, 630], "nice": false, "zero": false}, "axis": null},
    "y": {"datum": 1.4, "type": "quantitative", "scale": {"domain": [-1, 1], "range": [30.5, 15.5], "nice": false, "zero": false}, "axis": null}, "text": {"value": "a"}}},
  {"data": {"values": [{}]}, "mark": {"type": "text", "fontSize": 11.5, "align": "right", "color": "#1a1a1a"},
   "encoding": {"x": {"datum": -36, "type": "quantitative", "scale": {"domain": [-146, 6817], "range": [0, 630], "nice": false, "zero": false}, "axis": null},
    "y": {"datum": -0.27, "type": "quantitative", "scale": {"domain": [-1, 1], "range": [30.5, 15.5], "nice": false, "zero": false}, "axis": null}, "text": {"value": "5′"}}},
  {"data": {"values": [{}]}, "mark": {"type": "text", "fontSize": 11.5, "align": "left", "color": "#1a1a1a"},
   "encoding": {"x": {"datum": 6817, "type": "quantitative", "scale": {"domain": [-146, 6817], "range": [0, 630], "nice": false, "zero": false}, "axis": null},
    "y": {"datum": -0.27, "type": "quantitative", "scale": {"domain": [-1, 1], "range": [30.5, 15.5], "nice": false, "zero": false}, "axis": null}, "text": {"value": "3′"}}}
 ]},
 {"layer": [
  {"data": {"name": "nt1"}, "mark": {"type": "area", "color": "#ff0000"},
   "encoding": {"x": {"field": "p", "type": "quantitative", "scale": {"domain": [-146, 6817], "range": [0, 630], "nice": false, "zero": false}, "axis": null},
    "y": {"field": "v", "type": "quantitative", "scale": {"type": "symlog", "domain": [0, 1325], "range": [183, 50], "nice": false, "zero": false},
     "axis": {"orient": "right", "offset": -55, "values": [1, 10, 100], "labelExpr": "datum.value == 100 ? '10²' : format(datum.value, 'd')", "title": "RPM", "titleAngle": 90, "titleX": 41, "titleY": 138.3, "titleAlign": "center", "titleBaseline": "middle"}}}},
  {"data": {"values": [{}]}, "mark": {"type": "text", "fontSize": 11.5, "align": "left", "color": "#1a1a1a"},
   "encoding": {"x": {"datum": 163.5, "type": "quantitative", "scale": {"domain": [-146, 6817], "range": [0, 630], "nice": false, "zero": false}, "axis": null},
    "y": {"datum": 61, "type": "quantitative", "scale": {"type": "symlog", "domain": [0, 1325], "range": [183, 50], "nice": false, "zero": false}}, "text": {"value": "NT #1"}}}
 ]},
 {"layer": [
  {"data": {"name": "nt2"}, "mark": {"type": "area", "color": "#ff0000"},
   "encoding": {"x": {"field": "p", "type": "quantitative", "scale": {"domain": [-146, 6817], "range": [0, 630], "nice": false, "zero": false}, "axis": null},
    "y": {"field": "v", "type": "quantitative", "scale": {"type": "symlog", "domain": [0, 1043], "range": [309.5, 183], "nice": false, "zero": false},
     "axis": {"orient": "right", "offset": -55, "values": [1, 10, 100], "labelExpr": "datum.value == 100 ? '10²' : format(datum.value, 'd')", "title": "RPM", "titleAngle": 90, "titleX": 41, "titleY": 259.3, "titleAlign": "center", "titleBaseline": "middle"}}}},
  {"data": {"values": [{}]}, "mark": {"type": "text", "fontSize": 11.5, "align": "left", "color": "#1a1a1a"},
   "encoding": {"x": {"datum": 163.5, "type": "quantitative", "scale": {"domain": [-146, 6817], "range": [0, 630], "nice": false, "zero": false}, "axis": null},
    "y": {"datum": 46.3, "type": "quantitative", "scale": {"type": "symlog", "domain": [0, 1043], "range": [309.5, 183], "nice": false, "zero": false}}, "text": {"value": "NT #2"}}}
 ]},
 {"layer": [
  {"data": {"name": "vlines"}, "mark": {"type": "rule", "color": "#c6c6c6", "strokeDash": [2, 2], "strokeWidth": 1},
   "encoding": {"x": {"field": "p", "type": "quantitative", "scale": {"domain": [-146, 6817], "range": [0, 630], "nice": false, "zero": false}, "axis": null},
    "y": {"datum": 0, "type": "quantitative", "scale": {"domain": [-1, 1], "range": [364.5, 349.5], "nice": false, "zero": false}, "axis": null}, "y2": {"datum": -38.17}}},
  {"data": {"name": "ends"}, "mark": {"type": "rect", "color": "#000000", "height": 6},
   "encoding": {"x": {"field": "start", "type": "quantitative", "scale": {"domain": [-146, 6817], "range": [0, 630], "nice": false, "zero": false}, "axis": null}, "x2": {"field": "end"},
    "y": {"datum": -0.27, "type": "quantitative", "scale": {"domain": [-1, 1], "range": [364.5, 349.5], "nice": false, "zero": false}, "axis": null}}},
  {"data": {"name": "genes"}, "mark": {"type": "rect", "height": 22.3, "stroke": "#3f5b66", "strokeWidth": 1},
   "encoding": {"x": {"field": "start", "type": "quantitative", "scale": {"domain": [-146, 6817], "range": [0, 630], "nice": false, "zero": false}, "axis": null}, "x2": {"field": "end"},
    "y": {"field": "frame", "type": "quantitative", "scale": {"domain": [-1, 1], "range": [364.5, 349.5], "nice": false, "zero": false}, "axis": null},
    "color": {"field": "kind", "type": "nominal", "scale": {"domain": ["ORF", "ORFX"], "range": ["#add8e6", "#ffb6c1"]}, "legend": null}}},
  {"data": {"name": "genes"}, "transform": [{"filter": "datum.kind == 'ORF'"}], "mark": {"type": "text", "fontSize": 11.5, "color": "#1a1a1a"},
   "encoding": {"x": {"field": "lx", "type": "quantitative", "scale": {"domain": [-146, 6817], "range": [0, 630], "nice": false, "zero": false}, "axis": null},
    "y": {"field": "frame", "type": "quantitative", "scale": {"domain": [-1, 1], "range": [364.5, 349.5], "nice": false, "zero": false}, "axis": null}, "text": {"field": "name"}}},
  {"data": {"name": "genes"}, "transform": [{"filter": "datum.kind == 'ORFX'"}], "mark": {"type": "text", "fontSize": 9.5, "color": "#1a1a1a"},
   "encoding": {"x": {"field": "lx", "type": "quantitative", "scale": {"domain": [-146, 6817], "range": [0, 630], "nice": false, "zero": false}, "axis": null},
    "y": {"field": "frame", "type": "quantitative", "scale": {"domain": [-1, 1], "range": [364.5, 349.5], "nice": false, "zero": false}, "axis": null}, "text": {"field": "name"}}},
  {"data": {"values": [{}]}, "mark": {"type": "text", "fontSize": 13.5, "fontWeight": "bold", "align": "left", "baseline": "alphabetic", "color": "#000000"},
   "encoding": {"x": {"datum": -135, "type": "quantitative", "scale": {"domain": [-146, 6817], "range": [0, 630], "nice": false, "zero": false}, "axis": null},
    "y": {"datum": 1.83, "type": "quantitative", "scale": {"domain": [-1, 1], "range": [364.5, 349.5], "nice": false, "zero": false}, "axis": null}, "text": {"value": "b"}}},
  {"data": {"values": [{}]}, "mark": {"type": "text", "fontSize": 11.5, "align": "right", "color": "#1a1a1a"},
   "encoding": {"x": {"datum": -36, "type": "quantitative", "scale": {"domain": [-146, 6817], "range": [0, 630], "nice": false, "zero": false}, "axis": null},
    "y": {"datum": -0.27, "type": "quantitative", "scale": {"domain": [-1, 1], "range": [364.5, 349.5], "nice": false, "zero": false}, "axis": null}, "text": {"value": "5′"}}},
  {"data": {"values": [{}]}, "mark": {"type": "text", "fontSize": 11.5, "align": "left", "color": "#1a1a1a"},
   "encoding": {"x": {"datum": 6817, "type": "quantitative", "scale": {"domain": [-146, 6817], "range": [0, 630], "nice": false, "zero": false}, "axis": null},
    "y": {"datum": -0.27, "type": "quantitative", "scale": {"domain": [-1, 1], "range": [364.5, 349.5], "nice": false, "zero": false}, "axis": null}, "text": {"value": "3′"}}}
 ]},
 {"layer": [
  {"data": {"name": "ltm1"}, "mark": {"type": "rule", "color": "#ff0000", "strokeWidth": 1.2},
   "encoding": {"x": {"field": "p", "type": "quantitative", "scale": {"domain": [-146, 6817], "range": [0, 630], "nice": false, "zero": false}, "axis": null},
    "y": {"field": "v", "type": "quantitative", "scale": {"domain": [0, 15405], "range": [517.3, 380], "nice": false, "zero": false},
     "axis": {"orient": "right", "offset": -55, "values": [0, 11000], "labelExpr": "datum.value == 0 ? '0' : '11,000'", "title": "RPM", "titleAngle": 90, "titleX": 41, "titleY": 466, "titleAlign": "center", "titleBaseline": "middle"}},
    "y2": {"datum": 0}}},
  {"data": {"values": [{}]}, "mark": {"type": "rule", "color": "#ff0000", "strokeWidth": 1.5},
   "encoding": {"x": {"datum": 15, "type": "quantitative", "scale": {"domain": [-146, 6817], "range": [0, 630], "nice": false, "zero": false}, "axis": null}, "x2": {"datum": 6780},
    "y": {"datum": 0, "type": "quantitative", "scale": {"domain": [0, 15405], "range": [517.3, 380], "nice": false, "zero": false}}}},
  {"data": {"values": [{}]}, "mark": {"type": "text", "fontSize": 11.5, "align": "left", "color": "#1a1a1a"},
   "encoding": {"x": {"datum": 163.5, "type": "quantitative", "scale": {"domain": [-146, 6817], "range": [0, 630], "nice": false, "zero": false}, "axis": null},
    "y": {"datum": 2020, "type": "quantitative", "scale": {"domain": [0, 15405], "range": [517.3, 380], "nice": false, "zero": false}}, "text": {"value": "LTM #1"}}},
  {"data": {"values": [{}]}, "mark": {"type": "rule", "color": "#000000", "strokeWidth": 1.5},
   "encoding": {"x": {"datum": 440, "type": "quantitative", "scale": {"domain": [-146, 6817], "range": [0, 630], "nice": false, "zero": false}, "axis": null}, "x2": {"datum": 112},
    "y": {"datum": 10996, "type": "quantitative", "scale": {"domain": [0, 15405], "range": [517.3, 380], "nice": false, "zero": false}}, "y2": {"datum": 13272}}},
  {"data": {"values": [{}]}, "mark": {"type": "point", "shape": "triangle-up", "filled": true, "size": 75, "angle": 304, "color": "#000000", "opacity": 1, "strokeWidth": 0},
   "encoding": {"x": {"datum": 112, "type": "quantitative", "scale": {"domain": [-146, 6817], "range": [0, 630], "nice": false, "zero": false}, "axis": null},
    "y": {"datum": 13272, "type": "quantitative", "scale": {"domain": [0, 15405], "range": [517.3, 380], "nice": false, "zero": false}}}},
  {"data": {"values": [{}]}, "mark": {"type": "text", "fontSize": 12, "align": "left", "color": "#1a1a1a"},
   "encoding": {"x": {"datum": 450, "type": "quantitative", "scale": {"domain": [-146, 6817], "range": [0, 630], "nice": false, "zero": false}, "axis": null},
    "y": {"datum": 10356, "type": "quantitative", "scale": {"domain": [0, 15405], "range": [517.3, 380], "nice": false, "zero": false}}, "text": {"value": "nsP1a"}}},
  {"data": {"values": [{}]}, "mark": {"type": "rule", "color": "#000000", "strokeWidth": 1.5},
   "encoding": {"x": {"datum": 3954, "type": "quantitative", "scale": {"domain": [-146, 6817], "range": [0, 630], "nice": false, "zero": false}, "axis": null}, "x2": {"datum": 4241},
    "y": {"datum": 8224, "type": "quantitative", "scale": {"domain": [0, 15405], "range": [517.3, 380], "nice": false, "zero": false}}, "y2": {"datum": 5823}}},
  {"data": {"values": [{}]}, "mark": {"type": "point", "shape": "triangle-up", "filled": true, "size": 75, "angle": 130, "color": "#000000", "opacity": 1, "strokeWidth": 0},
   "encoding": {"x": {"datum": 4241, "type": "quantitative", "scale": {"domain": [-146, 6817], "range": [0, 630], "nice": false, "zero": false}, "axis": null},
    "y": {"datum": 5823, "type": "quantitative", "scale": {"domain": [0, 15405], "range": [517.3, 380], "nice": false, "zero": false}}}},
  {"data": {"values": [{}]}, "mark": {"type": "text", "fontSize": 12, "align": "right", "color": "#1a1a1a"},
   "encoding": {"x": {"datum": 3943, "type": "quantitative", "scale": {"domain": [-146, 6817], "range": [0, 630], "nice": false, "zero": false}, "axis": null},
    "y": {"datum": 8673, "type": "quantitative", "scale": {"domain": [0, 15405], "range": [517.3, 380], "nice": false, "zero": false}}, "text": {"value": "CP"}}},
  {"data": {"values": [{}]}, "mark": {"type": "rule", "color": "#ff0000", "strokeWidth": 1.5},
   "encoding": {"x": {"datum": 4695, "type": "quantitative", "scale": {"domain": [-146, 6817], "range": [0, 630], "nice": false, "zero": false}, "axis": null}, "x2": {"datum": 4432},
    "y": {"datum": 7360, "type": "quantitative", "scale": {"domain": [0, 15405], "range": [517.3, 380], "nice": false, "zero": false}}, "y2": {"datum": 4331}}},
  {"data": {"values": [{}]}, "mark": {"type": "point", "shape": "triangle-up", "filled": true, "size": 75, "angle": 221, "color": "#ff0000", "opacity": 1, "strokeWidth": 0},
   "encoding": {"x": {"datum": 4432, "type": "quantitative", "scale": {"domain": [-146, 6817], "range": [0, 630], "nice": false, "zero": false}, "axis": null},
    "y": {"datum": 4331, "type": "quantitative", "scale": {"domain": [0, 15405], "range": [517.3, 380], "nice": false, "zero": false}}}},
  {"data": {"values": [{}]}, "mark": {"type": "text", "fontSize": 12, "align": "left", "color": "#ff0000"},
   "encoding": {"x": {"datum": 4706, "type": "quantitative", "scale": {"domain": [-146, 6817], "range": [0, 630], "nice": false, "zero": false}, "axis": null},
    "y": {"datum": 7742, "type": "quantitative", "scale": {"domain": [0, 15405], "range": [517.3, 380], "nice": false, "zero": false}}, "text": {"value": "XP"}}}
 ]},
 {"layer": [
  {"data": {"name": "ltm2"}, "mark": {"type": "rule", "color": "#ff0000", "strokeWidth": 1.2},
   "encoding": {"x": {"field": "p", "type": "quantitative", "scale": {"domain": [-146, 6817], "range": [0, 630], "nice": false, "zero": false}, "axis": null},
    "y": {"field": "v", "type": "quantitative", "scale": {"domain": [0, 11252], "range": [643.3, 517.3], "nice": false, "zero": false},
     "axis": {"orient": "right", "offset": -55, "values": [0, 8600], "labelExpr": "datum.value == 0 ? '0' : '8600'", "title": "RPM", "titleAngle": 90, "titleX": 41, "titleY": 600.7, "titleAlign": "center", "titleBaseline": "middle"}},
    "y2": {"datum": 0}}},
  {"data": {"values": [{}]}, "mark": {"type": "rule", "color": "#ff0000", "strokeWidth": 1.5},
   "encoding": {"x": {"datum": 15, "type": "quantitative", "scale": {"domain": [-146, 6817], "range": [0, 630], "nice": false, "zero": false}, "axis": null}, "x2": {"datum": 6780},
    "y": {"datum": 0, "type": "quantitative", "scale": {"domain": [0, 11252], "range": [643.3, 517.3], "nice": false, "zero": false}}}},
  {"data": {"values": [{}]}, "mark": {"type": "text", "fontSize": 11.5, "align": "left", "color": "#1a1a1a"},
   "encoding": {"x": {"datum": 163.5, "type": "quantitative", "scale": {"domain": [-146, 6817], "range": [0, 630], "nice": false, "zero": false}, "axis": null},
    "y": {"datum": 1188, "type": "quantitative", "scale": {"domain": [0, 11252], "range": [643.3, 517.3], "nice": false, "zero": false}}, "text": {"value": "LTM #2"}}},
  {"data": {"values": [{}]}, "mark": {"type": "rule", "color": "#000000", "strokeWidth": 1.5},
   "encoding": {"x": {"datum": 440, "type": "quantitative", "scale": {"domain": [-146, 6817], "range": [0, 630], "nice": false, "zero": false}, "axis": null}, "x2": {"datum": 112},
    "y": {"datum": 8778, "type": "quantitative", "scale": {"domain": [0, 11252], "range": [643.3, 517.3], "nice": false, "zero": false}}, "y2": {"datum": 10546}}},
  {"data": {"values": [{}]}, "mark": {"type": "point", "shape": "triangle-up", "filled": true, "size": 75, "angle": 304, "color": "#000000", "opacity": 1, "strokeWidth": 0},
   "encoding": {"x": {"datum": 112, "type": "quantitative", "scale": {"domain": [-146, 6817], "range": [0, 630], "nice": false, "zero": false}, "axis": null},
    "y": {"datum": 10546, "type": "quantitative", "scale": {"domain": [0, 11252], "range": [643.3, 517.3], "nice": false, "zero": false}}}},
  {"data": {"values": [{}]}, "mark": {"type": "text", "fontSize": 12, "align": "left", "color": "#1a1a1a"},
   "encoding": {"x": {"datum": 450, "type": "quantitative", "scale": {"domain": [-146, 6817], "range": [0, 630], "nice": false, "zero": false}, "axis": null},
    "y": {"datum": 8269, "type": "quantitative", "scale": {"domain": [0, 11252], "range": [643.3, 517.3], "nice": false, "zero": false}}, "text": {"value": "nsP1a"}}},
  {"data": {"values": [{}]}, "mark": {"type": "rule", "color": "#000000", "strokeWidth": 1.5},
   "encoding": {"x": {"datum": 3954, "type": "quantitative", "scale": {"domain": [-146, 6817], "range": [0, 630], "nice": false, "zero": false}, "axis": null}, "x2": {"datum": 4241},
    "y": {"datum": 9761, "type": "quantitative", "scale": {"domain": [0, 11252], "range": [643.3, 517.3], "nice": false, "zero": false}}, "y2": {"datum": 7823}}},
  {"data": {"values": [{}]}, "mark": {"type": "point", "shape": "triangle-up", "filled": true, "size": 75, "angle": 130, "color": "#000000", "opacity": 1, "strokeWidth": 0},
   "encoding": {"x": {"datum": 4241, "type": "quantitative", "scale": {"domain": [-146, 6817], "range": [0, 630], "nice": false, "zero": false}, "axis": null},
    "y": {"datum": 7823, "type": "quantitative", "scale": {"domain": [0, 11252], "range": [643.3, 517.3], "nice": false, "zero": false}}}},
  {"data": {"values": [{}]}, "mark": {"type": "text", "fontSize": 12, "align": "right", "color": "#1a1a1a"},
   "encoding": {"x": {"datum": 3943, "type": "quantitative", "scale": {"domain": [-146, 6817], "range": [0, 630], "nice": false, "zero": false}, "axis": null},
    "y": {"datum": 10118, "type": "quantitative", "scale": {"domain": [0, 11252], "range": [643.3, 517.3], "nice": false, "zero": false}}, "text": {"value": "CP"}}},
  {"data": {"values": [{}]}, "mark": {"type": "rule", "color": "#ff0000", "strokeWidth": 1.5},
   "encoding": {"x": {"datum": 4695, "type": "quantitative", "scale": {"domain": [-146, 6817], "range": [0, 630], "nice": false, "zero": false}, "axis": null}, "x2": {"datum": 4431},
    "y": {"datum": 5805, "type": "quantitative", "scale": {"domain": [0, 11252], "range": [643.3, 517.3], "nice": false, "zero": false}}, "y2": {"datum": 3099}}},
  {"data": {"values": [{}]}, "mark": {"type": "point", "shape": "triangle-up", "filled": true, "size": 75, "angle": 218, "color": "#ff0000", "opacity": 1, "strokeWidth": 0},
   "encoding": {"x": {"datum": 4431, "type": "quantitative", "scale": {"domain": [-146, 6817], "range": [0, 630], "nice": false, "zero": false}, "axis": null},
    "y": {"datum": 3099, "type": "quantitative", "scale": {"domain": [0, 11252], "range": [643.3, 517.3], "nice": false, "zero": false}}}},
  {"data": {"values": [{}]}, "mark": {"type": "text", "fontSize": 12, "align": "left", "color": "#ff0000"},
   "encoding": {"x": {"datum": 4706, "type": "quantitative", "scale": {"domain": [-146, 6817], "range": [0, 630], "nice": false, "zero": false}, "axis": null},
    "y": {"datum": 6010, "type": "quantitative", "scale": {"domain": [0, 11252], "range": [643.3, 517.3], "nice": false, "zero": false}}, "text": {"value": "XP"}}}
 ]},
 {"layer": [
  {"layer": [
   {"data": {"name": "frames"}, "mark": {"type": "bar"},
    "encoding": {"x": {"field": "sample", "type": "nominal", "scale": {"domain": ["Host|NT #1", "Host|NT #2", "Overlap|NT #1", "Overlap|NT #2", "NonOverlap|NT #1", "NonOverlap|NT #2"], "range": [0, 294.6], "paddingInner": 0.25, "paddingOuter": 0.059}, "axis": null},
     "xOffset": {"field": "frame", "type": "nominal", "scale": {"domain": ["0", "+1", "+2"], "paddingInner": 0.14, "paddingOuter": 0.07}},
     "y": {"field": "pct", "type": "quantitative", "stack": null, "scale": {"domain": [0, 107.5], "range": [825.7, 686], "nice": false, "zero": false}, "axis": null},
     "color": {"field": "frame", "type": "nominal", "scale": {"domain": ["0", "+1", "+2"], "range": ["#880088", "#00bfff", "#ffa500"]}, "legend": null}}},
   {"data": {"name": "frames"}, "transform": [{"filter": "datum.frame == '0'"}], "mark": {"type": "text", "fontSize": 12, "color": "#1a1a1a"},
    "encoding": {"x": {"field": "sample", "type": "nominal", "scale": {"domain": ["Host|NT #1", "Host|NT #2", "Overlap|NT #1", "Overlap|NT #2", "NonOverlap|NT #1", "NonOverlap|NT #2"], "range": [0, 294.6], "paddingInner": 0.25, "paddingOuter": 0.059}, "axis": null},
     "y": {"datum": -9.2, "type": "quantitative", "scale": {"domain": [0, 107.5], "range": [825.7, 686], "nice": false, "zero": false}, "axis": null}, "text": {"field": "rep"}}}
  ]},
  {"layer": [
   {"data": {"values": [{}]}, "mark": {"type": "rule", "color": "#707070", "strokeWidth": 1.2},
    "encoding": {"x": {"datum": 0, "type": "quantitative", "scale": {"domain": [0, 6], "range": [0, 294.6], "nice": false, "zero": false}, "axis": null}, "x2": {"datum": 6},
     "y": {"datum": 0, "type": "quantitative", "scale": {"domain": [0, 107.5], "range": [825.7, 686], "nice": false, "zero": false}, "axis": null}}},
   {"data": {"values": [{}]}, "mark": {"type": "rule", "color": "#707070", "strokeWidth": 1.2},
    "encoding": {"x": {"datum": 0, "type": "quantitative", "scale": {"domain": [0, 6], "range": [0, 294.6], "nice": false, "zero": false}, "axis": null}, "x2": {"datum": 6},
     "y": {"datum": 78, "type": "quantitative", "scale": {"domain": [0, 107.5], "range": [825.7, 686], "nice": false, "zero": false}, "axis": null}}},
   {"data": {"values": [{}]}, "mark": {"type": "rule", "color": "#707070", "strokeWidth": 1.2},
    "encoding": {"x": {"datum": 1.99, "type": "quantitative", "scale": {"domain": [0, 6], "range": [0, 294.6], "nice": false, "zero": false}, "axis": null}, "x2": {"datum": 6},
     "y": {"datum": 102.6, "type": "quantitative", "scale": {"domain": [0, 107.5], "range": [825.7, 686], "nice": false, "zero": false}, "axis": null}}},
   {"data": {"values": [{}]}, "mark": {"type": "rule", "color": "#707070", "strokeWidth": 1.2},
    "encoding": {"x": {"datum": 1.99, "type": "quantitative", "scale": {"domain": [0, 6], "range": [0, 294.6], "nice": false, "zero": false}, "axis": null},
     "y": {"datum": 115.4, "type": "quantitative", "scale": {"domain": [0, 107.5], "range": [825.7, 686], "nice": false, "zero": false}, "axis": null}, "y2": {"datum": -9.5}}},
   {"data": {"values": [{}]}, "mark": {"type": "rule", "color": "#707070", "strokeWidth": 1.2},
    "encoding": {"x": {"datum": 4.02, "type": "quantitative", "scale": {"domain": [0, 6], "range": [0, 294.6], "nice": false, "zero": false}, "axis": null},
     "y": {"datum": 102.6, "type": "quantitative", "scale": {"domain": [0, 107.5], "range": [825.7, 686], "nice": false, "zero": false}, "axis": null}, "y2": {"datum": -10.2}}},
   {"data": {"values": [{}]}, "mark": {"type": "text", "fontSize": 14, "fontWeight": "bold", "align": "left", "baseline": "alphabetic", "color": "#000000"},
    "encoding": {"x": {"datum": 0.04, "type": "quantitative", "scale": {"domain": [0, 6], "range": [0, 294.6], "nice": false, "zero": false}, "axis": null},
     "y": {"datum": 112.1, "type": "quantitative", "scale": {"domain": [0, 107.5], "range": [825.7, 686], "nice": false, "zero": false}, "axis": null}, "text": {"value": "c"}}},
   {"data": {"values": [{}]}, "mark": {"type": "text", "fontSize": 12, "color": "#1a1a1a"},
    "encoding": {"x": {"datum": 0.92, "type": "quantitative", "scale": {"domain": [0, 6], "range": [0, 294.6], "nice": false, "zero": false}, "axis": null},
     "y": {"datum": 97.5, "type": "quantitative", "scale": {"domain": [0, 107.5], "range": [825.7, 686], "nice": false, "zero": false}, "axis": null}, "text": {"value": "Host"}}},
   {"data": {"values": [{}]}, "mark": {"type": "text", "fontSize": 12, "color": "#1a1a1a"},
    "encoding": {"x": {"datum": 4.02, "type": "quantitative", "scale": {"domain": [0, 6], "range": [0, 294.6], "nice": false, "zero": false}, "axis": null},
     "y": {"datum": 110.3, "type": "quantitative", "scale": {"domain": [0, 107.5], "range": [825.7, 686], "nice": false, "zero": false}, "axis": null}, "text": {"value": "Virus"}}},
   {"data": {"values": [{}]}, "mark": {"type": "text", "fontSize": 12, "color": "#1a1a1a"},
    "encoding": {"x": {"datum": 3.0, "type": "quantitative", "scale": {"domain": [0, 6], "range": [0, 294.6], "nice": false, "zero": false}, "axis": null},
     "y": {"datum": 98, "type": "quantitative", "scale": {"domain": [0, 107.5], "range": [825.7, 686], "nice": false, "zero": false}, "axis": null}, "text": {"value": "CP/XP"}}},
   {"data": {"values": [{}]}, "mark": {"type": "text", "fontSize": 12, "color": "#1a1a1a"},
    "encoding": {"x": {"datum": 3.0, "type": "quantitative", "scale": {"domain": [0, 6], "range": [0, 294.6], "nice": false, "zero": false}, "axis": null},
     "y": {"datum": 85.9, "type": "quantitative", "scale": {"domain": [0, 107.5], "range": [825.7, 686], "nice": false, "zero": false}, "axis": null}, "text": {"value": "overlap region"}}},
   {"data": {"values": [{}]}, "mark": {"type": "text", "fontSize": 12, "color": "#1a1a1a"},
    "encoding": {"x": {"datum": 5.03, "type": "quantitative", "scale": {"domain": [0, 6], "range": [0, 294.6], "nice": false, "zero": false}, "axis": null},
     "y": {"datum": 98, "type": "quantitative", "scale": {"domain": [0, 107.5], "range": [825.7, 686], "nice": false, "zero": false}, "axis": null}, "text": {"value": "CP non-"}}},
   {"data": {"values": [{}]}, "mark": {"type": "text", "fontSize": 12, "color": "#1a1a1a"},
    "encoding": {"x": {"datum": 5.03, "type": "quantitative", "scale": {"domain": [0, 6], "range": [0, 294.6], "nice": false, "zero": false}, "axis": null},
     "y": {"datum": 85.9, "type": "quantitative", "scale": {"domain": [0, 107.5], "range": [825.7, 686], "nice": false, "zero": false}, "axis": null}, "text": {"value": "overlap region"}}}
  ]}
 ], "resolve": {"scale": {"x": "independent"}, "axis": {"x": "independent"}}},
 {"layer": [
  {"data": {"name": "violins"}, "mark": {"type": "area", "orient": "horizontal"},
   "encoding": {"y": {"field": "y", "type": "quantitative", "scale": {"domain": [-0.058, 1.303], "range": [826.7, 686], "nice": false, "zero": false},
     "axis": {"orient": "left", "offset": -410, "values": [0, 0.2, 0.4, 0.6, 0.8, 1], "labelExpr": "datum.value == 0 ? '0' : format(datum.value, '.1f')", "labelFontSize": 13, "tickSize": 6.7, "labelPadding": 3, "title": ["Estimated XP:CP", "expression ratio"], "titleFontSize": 12.5, "titleAngle": -90, "titleX": -57, "titleY": 755, "titleAlign": "center", "titleBaseline": "middle", "titleLineHeight": 14}},
    "x": {"field": "lo", "type": "quantitative", "stack": null, "scale": {"domain": [0.617, 4.702], "range": [410, 665.7], "nice": false, "zero": false}, "axis": null},
    "x2": {"field": "hi"},
    "color": {"field": "g", "type": "nominal", "scale": {"domain": ["r1", "b1", "r2", "b2"], "range": ["#ff0000", "#3333ff", "#ff0000", "#3333ff"]}, "legend": null}}},
  {"data": {"name": "whisk"}, "mark": {"type": "rule", "color": "#000000", "strokeWidth": 1},
   "encoding": {"x": {"field": "pos", "type": "quantitative", "scale": {"domain": [0.617, 4.702], "range": [410, 665.7], "nice": false, "zero": false}, "axis": null},
    "y": {"field": "lo", "type": "quantitative", "scale": {"domain": [-0.058, 1.303], "range": [826.7, 686], "nice": false, "zero": false}}, "y2": {"field": "hi"}}},
  {"data": {"name": "whisk"}, "mark": {"type": "tick", "orient": "horizontal", "size": 19, "thickness": 1, "color": "#000000", "opacity": 1},
   "encoding": {"x": {"field": "pos", "type": "quantitative", "scale": {"domain": [0.617, 4.702], "range": [410, 665.7], "nice": false, "zero": false}, "axis": null},
    "y": {"field": "hi", "type": "quantitative", "scale": {"domain": [-0.058, 1.303], "range": [826.7, 686], "nice": false, "zero": false}}}},
  {"data": {"name": "whisk"}, "mark": {"type": "tick", "orient": "horizontal", "size": 19, "thickness": 1, "color": "#000000", "opacity": 1},
   "encoding": {"x": {"field": "pos", "type": "quantitative", "scale": {"domain": [0.617, 4.702], "range": [410, 665.7], "nice": false, "zero": false}, "axis": null},
    "y": {"field": "lo", "type": "quantitative", "scale": {"domain": [-0.058, 1.303], "range": [826.7, 686], "nice": false, "zero": false}}}},
  {"data": {"name": "whisk"}, "mark": {"type": "tick", "orient": "horizontal", "size": 26, "thickness": 2, "color": "#000000", "opacity": 1},
   "encoding": {"x": {"field": "pos", "type": "quantitative", "scale": {"domain": [0.617, 4.702], "range": [410, 665.7], "nice": false, "zero": false}, "axis": null},
    "y": {"field": "med", "type": "quantitative", "scale": {"domain": [-0.058, 1.303], "range": [826.7, 686], "nice": false, "zero": false}}}},
  {"data": {"values": [{}]}, "mark": {"type": "rect", "filled": false, "color": "#555555", "strokeWidth": 1},
   "encoding": {"x": {"datum": 0.617, "type": "quantitative", "scale": {"domain": [0.617, 4.702], "range": [410, 665.7], "nice": false, "zero": false}, "axis": null}, "x2": {"datum": 4.702},
    "y": {"datum": -0.058, "type": "quantitative", "scale": {"domain": [-0.058, 1.303], "range": [826.7, 686], "nice": false, "zero": false}}, "y2": {"datum": 1.303}}},
  {"data": {"values": [{}]}, "mark": {"type": "text", "fontSize": 10.8, "align": "left", "color": "#ff0000"},
   "encoding": {"x": {"datum": 0.813, "type": "quantitative", "scale": {"domain": [0.617, 4.702], "range": [410, 665.7], "nice": false, "zero": false}, "axis": null},
    "y": {"datum": 1.184, "type": "quantitative", "scale": {"domain": [-0.058, 1.303], "range": [826.7, 686], "nice": false, "zero": false}}, "text": {"value": "CP/XP overlap region"}}},
  {"data": {"values": [{}]}, "mark": {"type": "text", "fontSize": 10.8, "align": "left", "color": "#3333ff"},
   "encoding": {"x": {"datum": 0.813, "type": "quantitative", "scale": {"domain": [0.617, 4.702], "range": [410, 665.7], "nice": false, "zero": false}, "axis": null},
    "y": {"datum": 1.054, "type": "quantitative", "scale": {"domain": [-0.058, 1.303], "range": [826.7, 686], "nice": false, "zero": false}}, "text": {"value": "CP non-overlap region"}}},
  {"data": {"values": [{}]}, "mark": {"type": "text", "fontSize": 12, "color": "#1a1a1a"},
   "encoding": {"x": {"datum": 1.336, "type": "quantitative", "scale": {"domain": [0.617, 4.702], "range": [410, 665.7], "nice": false, "zero": false}, "axis": null},
    "y": {"datum": -0.164, "type": "quantitative", "scale": {"domain": [-0.058, 1.303], "range": [826.7, 686], "nice": false, "zero": false}}, "text": {"value": "NT #1"}}},
  {"data": {"values": [{}]}, "mark": {"type": "text", "fontSize": 12, "color": "#1a1a1a"},
   "encoding": {"x": {"datum": 3.36, "type": "quantitative", "scale": {"domain": [0.617, 4.702], "range": [410, 665.7], "nice": false, "zero": false}, "axis": null},
    "y": {"datum": -0.164, "type": "quantitative", "scale": {"domain": [-0.058, 1.303], "range": [826.7, 686], "nice": false, "zero": false}}, "text": {"value": "NT #2"}}},
  {"data": {"values": [{}]}, "mark": {"type": "text", "fontSize": 14, "fontWeight": "bold", "baseline": "alphabetic", "color": "#000000"},
   "encoding": {"x": {"datum": -0.301, "type": "quantitative", "scale": {"domain": [0.617, 4.702], "range": [410, 665.7], "nice": false, "zero": false}, "axis": null},
    "y": {"datum": 1.351, "type": "quantitative", "scale": {"domain": [-0.058, 1.303], "range": [826.7, 686], "nice": false, "zero": false}}, "text": {"value": "d"}}}
 ]}
],
"resolve": {"scale": {"x": "independent", "y": "independent", "color": "independent", "xOffset": "independent"}, "axis": {"x": "independent", "y": "independent"}}
}
